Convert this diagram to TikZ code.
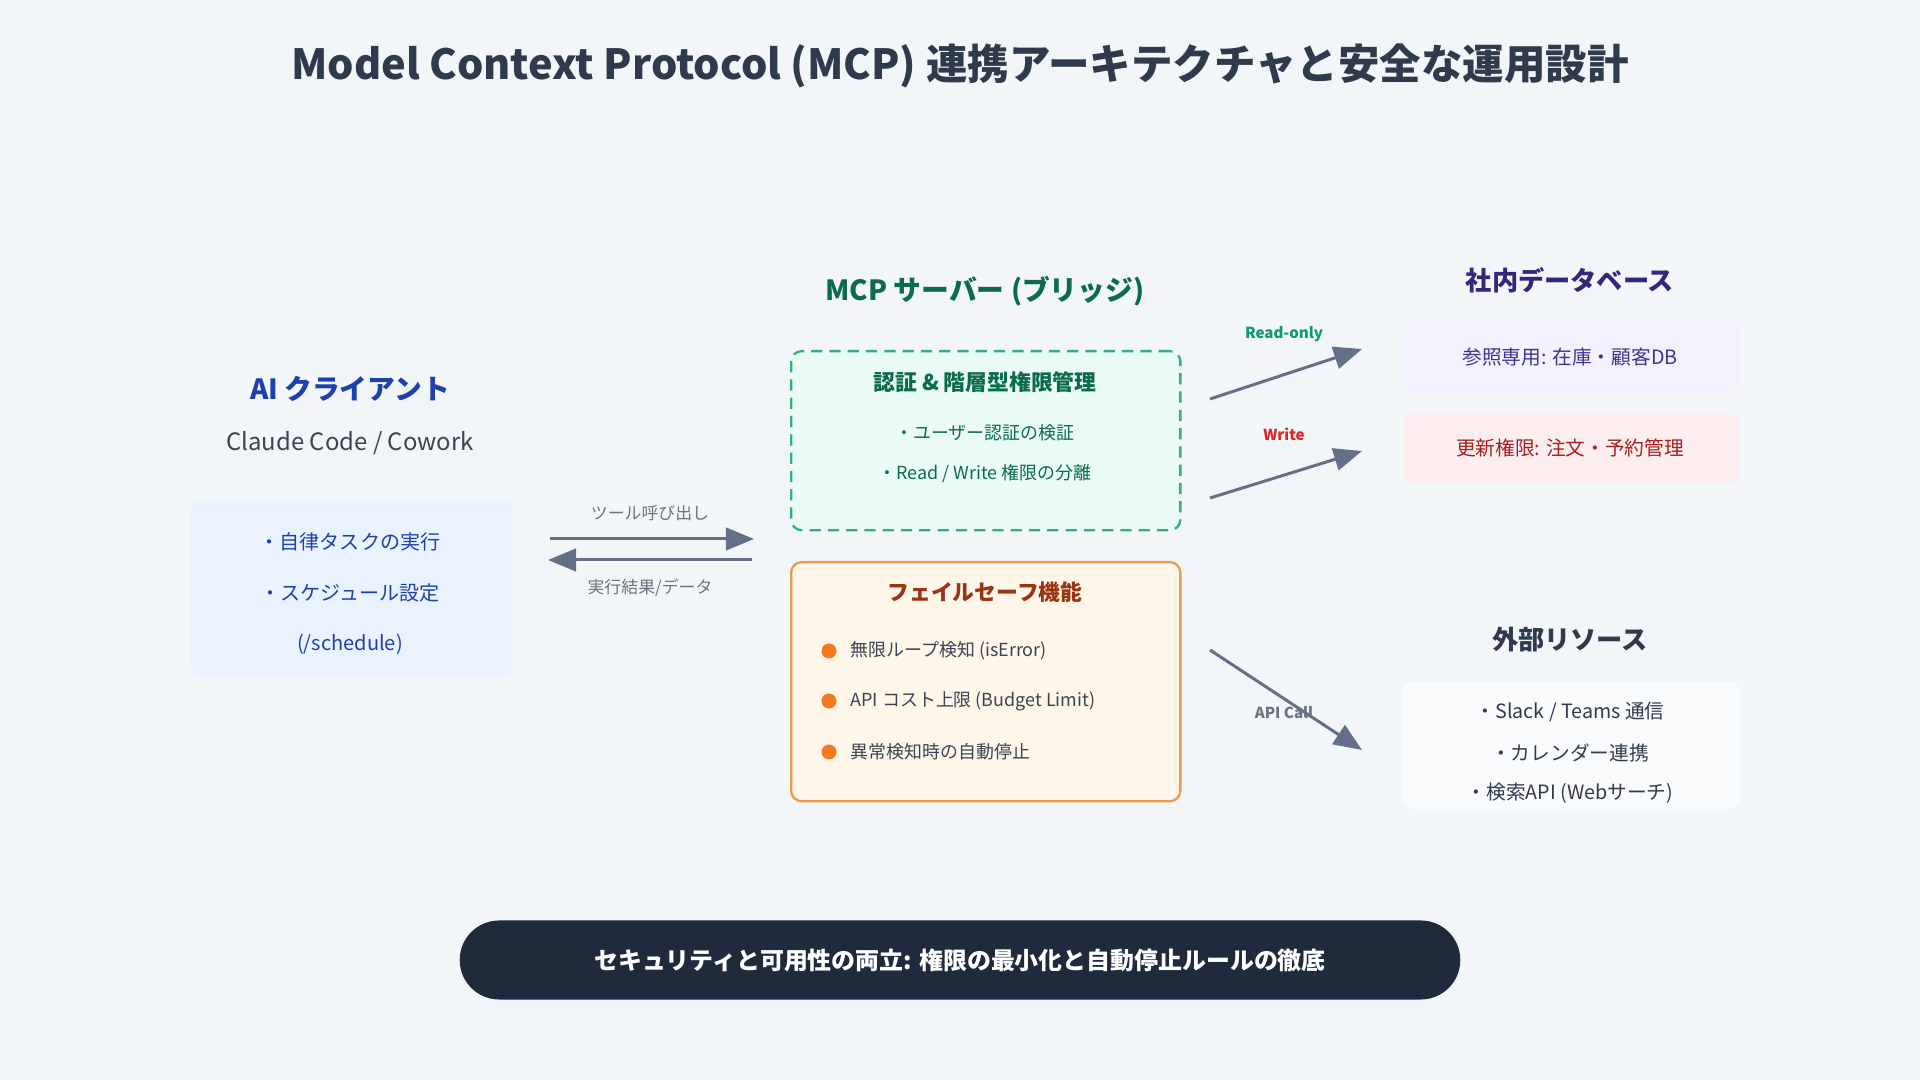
\documentclass[tikz,border=0pt]{standalone}
\usepackage{fontspec}
\setmainfont{Noto Sans CJK JP}
\usetikzlibrary{arrows.meta}

\definecolor{pagebg}{HTML}{F3F6F9}
\definecolor{titleink}{HTML}{2F3B4C}
\definecolor{clientblue}{HTML}{1E40AF}
\definecolor{clientfill}{HTML}{EAF2FD}
\definecolor{greyink}{HTML}{3B4452}
\definecolor{mcpgreen}{HTML}{0B6B4B}
\definecolor{authfill}{HTML}{EAFBF3}
\definecolor{authline}{HTML}{2FB07F}
\definecolor{safeink}{HTML}{9A3412}
\definecolor{safefill}{HTML}{FFF6EA}
\definecolor{safeline}{HTML}{EE9B4C}
\definecolor{safedot}{HTML}{F47A20}
\definecolor{dbink}{HTML}{2E2A7A}
\definecolor{readfill}{HTML}{F2F1FD}
\definecolor{readink}{HTML}{3A3690}
\definecolor{writefill}{HTML}{FCEEEE}
\definecolor{writeink}{HTML}{A32020}
\definecolor{extfill}{HTML}{FAFBFD}
\definecolor{arrowgrey}{HTML}{637087}
\definecolor{labelgrey}{HTML}{6B7280}
\definecolor{okgreen}{HTML}{0E9A6A}
\definecolor{badred}{HTML}{DC2626}
\definecolor{footnavy}{HTML}{1F2A3D}

\begin{document}
\begin{tikzpicture}[x=0.01cm,y=-0.01cm,
    panel/.style={anchor=north west,inner sep=0pt,rounded corners=3pt},
    heading/.style={font=\bfseries\fontsize{7.9}{9}\selectfont},
    sidehead/.style={font=\bfseries\fontsize{7.45}{9}\selectfont},
    boxtitle/.style={font=\bfseries\fontsize{6.2}{7.5}\selectfont},
    item/.style={font=\fontsize{5.1}{6}\selectfont},
    sideitem/.style={font=\fontsize{5.6}{6.5}\selectfont},
    flowlabel/.style={font=\fontsize{4.8}{6}\selectfont,text=labelgrey},
    taglabel/.style={font=\bfseries\fontsize{4.3}{5}\selectfont},
    flow/.style={draw=arrowgrey,line width=0.85pt,-{Triangle[length=8pt,width=6.4pt]}}]

  % page
  \fill[pagebg] (0,0) rectangle (1920,1080);
  \node[font=\bfseries\fontsize{11.8}{14}\selectfont,text=titleink] (title) at (960,66)
    {Model Context Protocol (MCP) 連携アーキテクチャと安全な運用設計};

  % AI client
  \node[heading,text=clientblue] (clienthead) at (350,389) {AI クライアント};
  \node[font=\fontsize{6.8}{8}\selectfont,text=greyink] (clientsub) at (350,443) {Claude Code / Cowork};
  \node[panel,fill=clientfill,minimum width=3.22cm,minimum height=1.77cm] (client) at (190,500) {};
  \foreach \txt/\y [count=\i] in {・自律タスクの実行/542,・スケジュール設定/593,{(/schedule)}/644}{
    \node[font=\fontsize{5.7}{6.5}\selectfont,text=clientblue] (clientitem\i) at (350,\y) {\txt};
  }

  % MCP server
  \node[heading,text=mcpgreen] (mcphead) at (985,291) {MCP サーバー (ブリッジ)};
  \node[panel,fill=authfill,draw=authline,line width=0.65pt,dash pattern=on 3.2pt off 2pt,
    minimum width=3.89cm,minimum height=1.79cm] (auth) at (790,350) {};
  \node[boxtitle,text=mcpgreen] (authtitle) at (985,382) {認証 \& 階層型権限管理};
  \node[item,text=mcpgreen] (authitem1) at (985,433) {・ユーザー認証の検証};
  \node[item,text=mcpgreen] (authitem2) at (985,474) {・Read / Write 権限の分離};

  \node[panel,fill=safefill,draw=safeline,line width=0.65pt,
    minimum width=3.89cm,minimum height=2.39cm] (safe) at (790,561) {};
  \node[boxtitle,text=safeink] (safetitle) at (985,592) {フェイルセーフ機能};
  \foreach \txt/\y [count=\i] in {無限ループ検知 (isError)/651,API コスト上限 (Budget Limit)/701,異常検知時の自動停止/752}{
    \fill[safedot] (829,\y) circle (0.075cm);
    \node[item,anchor=west,inner xsep=0pt,text=greyink] (safeitem\i) at (850,\y) {\txt};
  }

  % client <-> server
  \coordinate (callfrom) at (550,539);
  \coordinate (callto) at (754,539);
  \coordinate (backfrom) at (752,560);
  \coordinate (backto) at (548,560);
  \draw[flow] (callfrom) -- (callto);
  \draw[flow] (backfrom) -- (backto);
  \node[flowlabel] (calllabel) at (650,513) {ツール呼び出し};
  \node[flowlabel] (backlabel) at (650,588) {実行結果/データ};

  % internal database
  \node[sidehead,text=dbink] (dbhead) at (1570,280) {社内データベース};
  \node[panel,fill=readfill,minimum width=3.37cm,minimum height=0.71cm] (readdb) at (1402,321) {};
  \node[sideitem,text=readink] (readtext) at (1570,357) {参照専用: 在庫・顧客DB};
  \node[panel,fill=writefill,minimum width=3.37cm,minimum height=0.69cm] (writedb) at (1402,413) {};
  \node[sideitem,text=writeink] (writetext) at (1570,448) {更新権限: 注文・予約管理};

  % external resources
  \node[sidehead,text=titleink] (exthead) at (1570,640) {外部リソース};
  \node[panel,fill=extfill,minimum width=3.37cm,minimum height=1.27cm] (ext) at (1402,681) {};
  \node[sideitem,text=titleink] (extitem1) at (1570,712) {・Slack / Teams 通信};
  \node[sideitem,text=titleink] (extitem2) at (1570,753) {・カレンダー連携};
  \node[sideitem,text=titleink] (extitem3) at (1570,793) {・検索API (Webサーチ)};

  % server -> resources
  \coordinate (readfrom) at (1210,399);
  \coordinate (readto) at (1362,349);
  \coordinate (writefrom) at (1210,498);
  \coordinate (writeto) at (1362,451);
  \coordinate (apifrom) at (1210,650);
  \coordinate (apito) at (1362,750);
  \draw[flow] (readfrom) -- (readto);
  \draw[flow] (writefrom) -- (writeto);
  \draw[flow] (apifrom) -- (apito);
  \node[taglabel,text=okgreen] (readtag) at (1284,334) {Read-only};
  \node[taglabel,text=badred] (writetag) at (1284,434) {Write};
  \node[taglabel,text=labelgrey] (apitag) at (1284,713) {API Call};

  % footer
  \node[fill=footnavy,rounded corners=0.395cm,minimum width=10cm,minimum height=0.79cm,
    text=white,font=\bfseries\fontsize{6.8}{8}\selectfont] (footer) at (960,960)
    {セキュリティと可用性の両立: 権限の最小化と自動停止ルールの徹底};
\end{tikzpicture}
\end{document}
